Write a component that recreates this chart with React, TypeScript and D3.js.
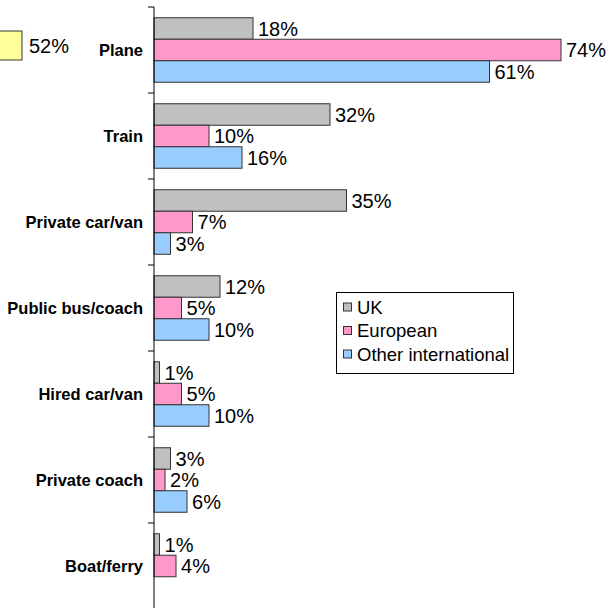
import * as d3 from 'd3';
import React from 'react';

const width = 612;
const height = 608;
const margin = { top: 7, left: 154 };

const categories = ['Plane', 'Train', 'Private car/van', 'Public bus/coach', 'Hired car/van', 'Private coach', 'Boat/ferry'];
const seriesNames = ['UK', 'European', 'Other international'];
const ukValues = [18, 32, 35, 12, 1, 3, 1];
const europeanValues = [74, 10, 7, 5, 5, 2, 4];
const otherValues: (number | null)[] = [61, 16, 3, 10, 10, 6, null];
const colors = ['#C0C0C0', '#FF99CC', '#99CCFF'];

// stray bar from a neighbouring chart, clipped at the left edge
const strayValue = 52;

export default function App() {
  const series = [ukValues, europeanValues, otherValues];

  const x = d3.scaleLinear().domain([0, 74]).range([margin.left, 561]);
  const y = d3.scaleBand<string>().domain(categories).range([margin.top, margin.top + 86 * categories.length]);
  const inner = d3
    .scaleBand<number>()
    .domain([0, 1, 2])
    .range([0, y.bandwidth()])
    .paddingInner(0)
    .paddingOuter(0.5);

  const font = 'Arial, "Liberation Sans", sans-serif';
  const ticks = categories.map((c) => y(c) as number).concat([y.range()[1]]);

  return (
    <svg width={width} height={height} style={{ position: 'absolute', left: 0, top: 0, background: '#fff' }}>
      <rect x={-5} y={31} width={27} height={29} fill="#FFFF99" stroke="#333" strokeWidth={1} />
      <text x={29} y={45.5} dy="0.35em" fontFamily={font} fontSize={20} fill="#000">
        {strayValue}%
      </text>

      {categories.map((c, i) => (
        <g key={c}>
          {series.map((s, j) => {
            const v = s[i];
            if (v == null) return null;
            const by = (y(c) as number) + (inner(j) as number);
            const bh = inner.bandwidth();
            return (
              <g key={j}>
                <rect
                  x={x(0)}
                  y={by}
                  width={x(v) - x(0)}
                  height={bh}
                  fill={colors[j]}
                  stroke="#333"
                  strokeWidth={1}
                />
                <text x={x(v) + 5} y={by + bh / 2} dy="0.36em" fontFamily={font} fontSize={20} fill="#000">
                  {v}%
                </text>
              </g>
            );
          })}
          <text
            x={143}
            y={(y(c) as number) + y.bandwidth() / 2}
            dy="0.35em"
            textAnchor="end"
            fontFamily={font}
            fontWeight="bold"
            fontSize={16.5}
            fill="#000"
          >
            {c}
          </text>
        </g>
      ))}

      <line x1={margin.left} x2={margin.left} y1={margin.top} y2={y.range()[1]} stroke="#000" strokeWidth={1} />
      {ticks.map((t, i) => (
        <line key={i} x1={margin.left - 6} x2={margin.left} y1={t} y2={t} stroke="#000" strokeWidth={1} />
      ))}

      <g>
        <rect x={336.5} y={292.5} width={177} height={81} fill="#fff" stroke="#000" strokeWidth={1} />
        {seriesNames.map((n, j) => {
          const cy = 307 + j * 23.5;
          return (
            <g key={n}>
              <rect x={343.5} y={cy - 4} width={8} height={8} fill={colors[j]} stroke="#333" strokeWidth={1} />
              <text x={357} y={cy} dy="0.36em" fontFamily={font} fontSize={18.5} fill="#000">
                {n}
              </text>
            </g>
          );
        })}
      </g>
    </svg>
  );
}
